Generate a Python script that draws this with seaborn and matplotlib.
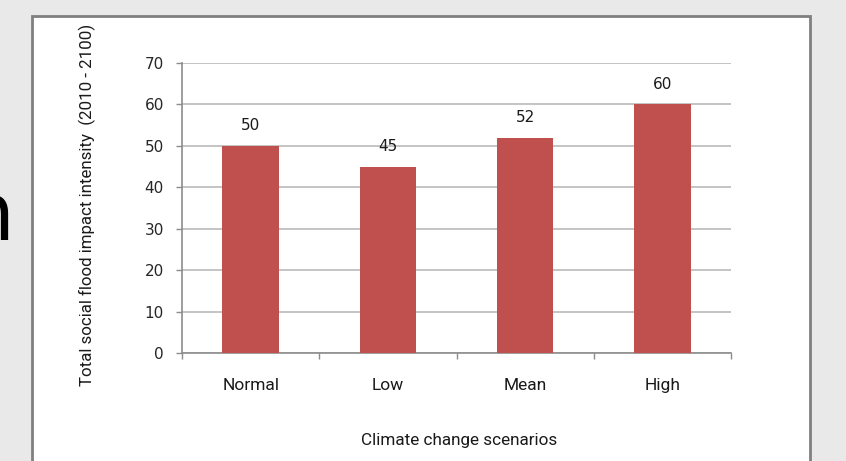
import numpy as np
import pandas as pd
import seaborn as sns
from matplotlib import pyplot as plt
from matplotlib.patches import Rectangle

# chart data
scenarios = ["Normal", "Low", "Mean", "High"]
intensity = [50, 45, 52, 60]
bar_labels = ["50", "45", "52", "60"]
y_ticks = [0, 10, 20, 30, 40, 50, 60, 70]

df = pd.DataFrame({"scenario": scenarios, "intensity": intensity})

sns.set_theme(style="white")
plt.rcParams["font.family"] = ["DejaVu Sans"]
narrow = ["Liberation Sans Narrow", "Roboto", "DejaVu Sans"]

fig = plt.figure(figsize=(8.46, 4.61), dpi=100)
fig.patch.set_facecolor("#e9e9e9")

# white slide panel with grey frame
W, H = 846, 461
panel = Rectangle((32 / W, -0.02), (810 - 32) / W, 1 - 16 / H + 0.02,
                  transform=fig.transFigure, facecolor="white",
                  edgecolor="#808080", linewidth=2, zorder=-5)
fig.patches.append(panel)

# piece of slide text peeking in at the left
fig.text(15 / W, 1 - 240 / H, "n", fontsize=58, color="black", ha="right",
         va="baseline", family=["DejaVu Sans"])

ax = fig.add_axes([182 / W, 1 - 353 / H, (731 - 182) / W, (353 - 63) / H])
ax.set_zorder(2)
ax.set_facecolor("none")

sns.barplot(data=df, x="scenario", y="intensity", color="#c0504d",
            width=0.41, saturation=1, linewidth=0, ax=ax, zorder=3)

ax.set_xlim(-0.5, 3.5)
ax.set_ylim(0, 70)
ax.set_yticks(y_ticks)
ax.yaxis.grid(True, color="#bfbfbf", linewidth=1.3, zorder=0)
ax.set_axisbelow(True)

for s in ["top", "right"]:
    ax.spines[s].set_visible(False)
for s in ["left", "bottom"]:
    ax.spines[s].set_color("#8c8c8c")
    ax.spines[s].set_linewidth(1.2)

ax.tick_params(axis="y", which="major", direction="out", length=4,
               width=1, color="#8c8c8c", pad=9, labelsize=11,
               labelcolor="#262626", left=True)
ax.tick_params(axis="x", which="major", length=0, pad=18, labelsize=12.5,
               labelcolor="#1a1a1a")
ax.set_xticks(np.arange(-0.5, 4, 1), minor=True)
ax.tick_params(axis="x", which="minor", direction="out", length=4,
               width=1, color="#8c8c8c", bottom=True)
for lab in ax.get_xticklabels():
    lab.set_family(narrow)

ax.bar_label(ax.containers[0], labels=bar_labels, padding=9, fontsize=11,
             color="#1a1a1a")

ax.set_xlabel("")
ax.set_ylabel("")
fig.text(459 / W, 1 - 440 / H, "Climate change scenarios", ha="center",
         va="center", fontsize=12.3, family=narrow, color="#1a1a1a")
fig.text(87 / W, 1 - 205 / H,
         "Total social flood impact intensity  (2010 - 2100)",
         rotation=90, ha="center", va="center", fontsize=12.2,
         family=narrow, color="#1a1a1a")

fig.savefig("out.png", dpi=100, facecolor=fig.get_facecolor())
